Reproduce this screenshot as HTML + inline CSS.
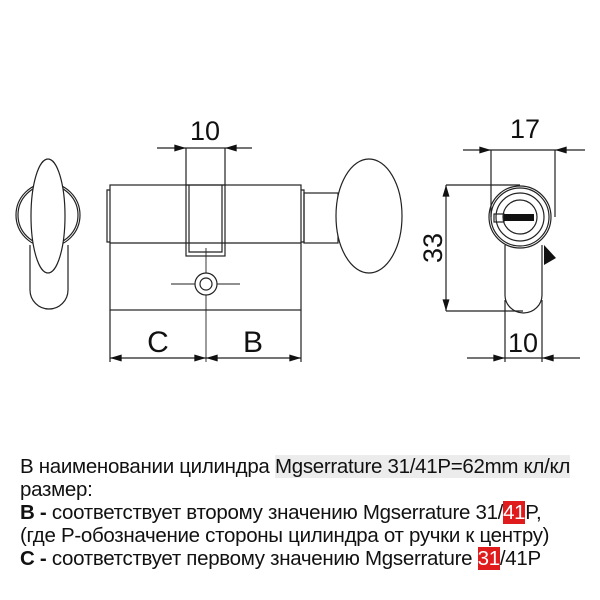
<!DOCTYPE html>
<html><head><meta charset="utf-8"><style>
body{margin:0;background:#fff;width:600px;height:600px;overflow:hidden;position:relative}
svg{position:absolute;left:0;top:0}
.t{position:absolute;left:20px;font-family:"Liberation Sans","Noto Sans CJK SC",sans-serif;font-size:20.5px;line-height:23px;color:#111;white-space:nowrap;letter-spacing:-0.3px}
.hl{background:#ececec}
.r{background:#e01b1b;color:#fff}
</style></head><body>
<svg width="600" height="600" viewBox="0 0 600 600" fill="none" stroke="#222" stroke-width="1.2">
<defs><marker id="a" viewBox="0 0 10 6" refX="10" refY="3" markerWidth="16" markerHeight="7" markerUnits="userSpaceOnUse" orient="auto-start-reverse"><path d="M0,0L10,3L0,6z" fill="#111" stroke="none"/></marker></defs>
<circle cx="48" cy="215" r="32"/><circle cx="48" cy="215" r="30"/>
<path d="M30,245 V290 A19,19 0 0 0 68,290 V245" fill="#fff"/>
<ellipse cx="48" cy="216" rx="17" ry="57" fill="#fff"/>
<rect x="110" y="185" width="191" height="125"/>
<line x1="110" y1="243" x2="301" y2="243"/>
<path d="M110,190 H107 V242 H110 M301,190 H304 V242 H301"/>
<rect x="186" y="185" width="39" height="71"/>
<path d="M189,185 V252 H222 V185"/>
<line x1="206" y1="248" x2="206" y2="362" stroke-width="0.9"/>
<line x1="171" y1="284" x2="240" y2="284" stroke-width="0.9"/>
<circle cx="206" cy="284" r="11" fill="#fff"/><circle cx="206" cy="284" r="6"/>
<rect x="304" y="193" width="34" height="50"/>
<ellipse cx="369" cy="216" rx="33" ry="57" fill="#fff"/>
<line x1="186" y1="148" x2="186" y2="185"/><line x1="225" y1="148" x2="225" y2="185"/>
<line x1="157" y1="148" x2="186" y2="148" marker-end="url(#a)"/>
<line x1="252" y1="148" x2="225" y2="148" marker-end="url(#a)"/>
<line x1="186" y1="148" x2="225" y2="148"/>
<line x1="110" y1="310" x2="110" y2="362"/><line x1="301" y1="310" x2="301" y2="362"/>
<line x1="110" y1="358" x2="206" y2="358" marker-start="url(#a)" marker-end="url(#a)"/>
<line x1="206" y1="358" x2="301" y2="358" marker-start="url(#a)" marker-end="url(#a)"/>
<path d="M505,245 V295 A18.5,18 0 0 0 542,295 V245"/>
<circle cx="520" cy="217" r="31" fill="#fff"/><circle cx="520" cy="217" r="29"/>
<circle cx="520" cy="217" r="24"/><circle cx="520" cy="217" r="17"/>
<rect x="494" y="214" width="10" height="8"/>
<rect x="504" y="214" width="30" height="7" fill="#111" stroke="none"/>
<path d="M544,245 L556,258 L544,265z" fill="#111" stroke="none"/>
<line x1="491" y1="150" x2="491" y2="217"/><line x1="555" y1="150" x2="555" y2="217"/>
<line x1="463" y1="150" x2="491" y2="150" marker-end="url(#a)"/>
<line x1="585" y1="150" x2="555" y2="150" marker-end="url(#a)"/>
<line x1="491" y1="150" x2="555" y2="150"/>
<line x1="446" y1="185" x2="520" y2="185"/><line x1="446" y1="311" x2="523" y2="311"/>
<line x1="446" y1="185" x2="446" y2="311" marker-start="url(#a)" marker-end="url(#a)"/>
<line x1="505" y1="300" x2="505" y2="362"/><line x1="542" y1="300" x2="542" y2="362"/>
<line x1="467" y1="358" x2="505" y2="358" marker-end="url(#a)"/>
<line x1="580" y1="358" x2="542" y2="358" marker-end="url(#a)"/>
<line x1="505" y1="358" x2="542" y2="358"/>
<g fill="#111" stroke="none" font-family="Liberation Sans,sans-serif" font-size="27" text-anchor="middle">
<text x="205" y="140">10</text>
<text x="525" y="138">17</text>
<text x="523" y="352">10</text>
<text x="158" y="352" font-size="30">C</text>
<text x="253" y="352" font-size="30">B</text>
<text transform="translate(442,248) rotate(-90)">33</text>
</g>
</svg>
<div class="t" style="top:455px">В наименовании цилиндра <span class="hl">Mgserrature 31/41P=62mm кл/кл</span></div>
<div class="t" style="top:478px">размер:</div>
<div class="t" style="top:501px"><b>B -</b> соответствует второму значению Mgserrature 31/<span class="r">41</span>P,</div>
<div class="t" style="top:524px">(где Р-обозначение стороны цилиндра от ручки к центру)</div>
<div class="t" style="top:547px"><b>C -</b> соответствует первому значению Mgserrature <span class="r">31</span>/41P</div>
</body></html>
